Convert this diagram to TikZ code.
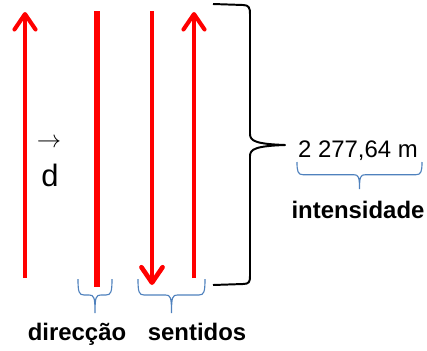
\documentclass[tikz,border=0pt]{standalone}
\usepackage{fontspec}
\setmainfont{Liberation Sans}
\usetikzlibrary{arrows.meta}

\definecolor{braceblue}{RGB}{79,129,189}

% Small blue brace under a label: left x, right x, top y, tip y.
\newcommand{\smallbrace}[4]{%
    \pgfmathsetmacro{\bmid}{#3+0.47*(#4-#3)}
    \pgfmathsetmacro{\bctr}{(#1+#2)/2}
    \draw[bluebrace] (#1,#3) .. controls (#1,\bmid-3) and (#1+1,\bmid) .. (#1+6,\bmid)
        -- (\bctr-6,\bmid) .. controls (\bctr-1,\bmid) and (\bctr,\bmid+2) .. (\bctr,#4)
        .. controls (\bctr,\bmid+2) and (\bctr+1,\bmid) .. (\bctr+6,\bmid)
        -- (#2-6,\bmid) .. controls (#2-1,\bmid) and (#2,\bmid-3) .. (#2,#3);
}

\begin{document}
\begin{tikzpicture}[x=0.025cm, y=-0.025cm,
    vector/.style = {draw = red, line width = 2.9pt,
        -{Straight Barb[length = 11pt, width = 15pt, round]}},
    plain/.style = {draw = red, line width = 4.2pt},
    bigbrace/.style = {draw = black, line width = 1.4pt, line join = round},
    bluebrace/.style = {draw = braceblue, line width = 0.8pt},
    tag/.style = {font = \fontsize{17}{20}\selectfont\bfseries, inner sep = 0pt},
    value/.style = {font = \fontsize{17}{20}\selectfont, inner sep = 0pt}
]

    % Fix the size of the page.
    \useasboundingbox (0,0) rectangle (427,350);

    % End points of the four red lines.
    \coordinate (a0) at (25,278);
    \coordinate (a1) at (25,12);
    \coordinate (b0) at (97,11);
    \coordinate (b1) at (97,287);
    \coordinate (c0) at (152,11);
    \coordinate (c1) at (152,285);
    \coordinate (d0) at (194,278);
    \coordinate (d1) at (194,12);

    % The red vectors and the plain line.
    \draw[vector] (a0) to (a1);
    \draw[plain] (b0) to (b1);
    \draw[vector, line width = 3.3pt] (c0) to (c1);
    \draw[vector] (d0) to (d1);

    % Vector name.
    \node[inner sep = 0pt, font = \fontsize{17}{20}\selectfont] (vecarrow) at (49,143) {$\rightarrow$};
    \node[anchor = base, inner sep = 0pt, font = \fontsize{22}{26}\selectfont] (vecd) at (50,186) {d};

    % Big brace on the right, pointing at the length.
    \draw[bigbrace] (213,4) -- (243,5) .. controls (249,5) and (250,8) .. (250,14)
        -- (250,134) .. controls (250,141) and (256,144) .. (285,145)
        .. controls (256,146) and (250,149) .. (250,156)
        -- (250,276) .. controls (250,282) and (249,284) .. (243,284) -- (213,285);

    % Labels.
    \node[value, anchor = base] (length) at (358,157) {2 277,64 m};
    \node[tag, anchor = base] (intens) at (358,218) {intensidade};
    \node[tag, anchor = base] (direction) at (77,340) {direcção};
    \node[tag, anchor = base] (sense) at (197,340) {sentidos};

    % Blue braces under the labels.
    \smallbrace{297}{422}{162}{189}
    \smallbrace{78}{112}{279}{313}
    \smallbrace{138}{205}{279}{313}

\end{tikzpicture}
\end{document}
